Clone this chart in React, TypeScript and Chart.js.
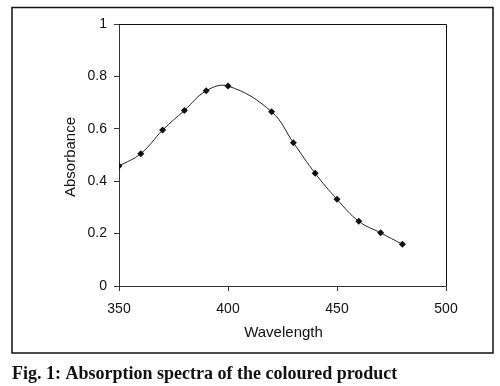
import React, { useEffect, useRef } from "react";
import { Chart, registerables } from "chart.js";

Chart.register(...registerables);

const wavelengths = [350, 360, 370, 380, 390, 400, 420, 430, 440, 450, 460, 470, 480];
const absorbance = [0.458, 0.505, 0.595, 0.67, 0.745, 0.763, 0.665, 0.547, 0.43, 0.331, 0.247, 0.203, 0.159];
const xTitle = "Wavelength";
const yTitle = "Absorbance";
const caption = "Fig. 1: Absorption spectra of the coloured product";

const decorPlugin = {
  id: "decor",
  afterDraw(chart: any) {
    const ctx = chart.ctx;
    const a = chart.chartArea;
    ctx.save();
    // plot box top & right
    ctx.strokeStyle = "#111";
    ctx.lineWidth = 1;
    ctx.beginPath();
    ctx.moveTo(a.left, a.top + 0.5);
    ctx.lineTo(a.right + 0.5, a.top + 0.5);
    ctx.lineTo(a.right + 0.5, a.bottom);
    ctx.stroke();
    // outer frame
    ctx.lineWidth = 1.5;
    ctx.strokeStyle = "#111";
    ctx.strokeRect(12, 7.5, 481, 345.5);
    // axis titles
    ctx.fillStyle = "#111";
    ctx.font = "15px 'Liberation Sans', Arial, sans-serif";
    ctx.textAlign = "center";
    ctx.textBaseline = "middle";
    ctx.fillText(xTitle, (a.left + a.right) / 2 + 1, 333);
    ctx.save();
    ctx.translate(71, (a.top + a.bottom) / 2 + 2);
    ctx.rotate(-Math.PI / 2);
    ctx.fillText(yTitle, 0, 0);
    ctx.restore();
    // caption
    ctx.font = "bold 18px 'Liberation Serif', 'Times New Roman', serif";
    ctx.textAlign = "left";
    ctx.fillText(caption, 12, 374);
    ctx.restore();
  },
};

export default function App() {
  const ref = useRef<HTMLCanvasElement | null>(null);
  useEffect(() => {
    if (!ref.current) return;
    const chart = new Chart(ref.current, {
      type: "line",
      data: {
        datasets: [
          {
            data: wavelengths.map((w, i) => ({ x: w, y: absorbance[i] })),
            borderColor: "#222",
            borderWidth: 1,
            backgroundColor: "#111",
            pointStyle: "rectRot",
            pointRadius: 3.5,
            pointBorderWidth: 0,
            tension: 0.4,
            fill: false,
          },
        ],
      },
      options: {
        animation: false,
        responsive: false,
        maintainAspectRatio: false,
        layout: { padding: { left: 0, top: 24, right: 54, bottom: 0 } },
        plugins: { legend: { display: false }, tooltip: { enabled: false } },
        scales: {
          x: {
            type: "linear",
            min: 350,
            max: 500,
            ticks: {
              stepSize: 50,
              color: "#111",
              font: { size: 14, family: "'Liberation Sans', Arial, sans-serif" },
              padding: 10,
              maxRotation: 0,
            },
            grid: { display: true, drawOnChartArea: false, color: "#333", tickLength: 5 },
            border: { display: true, color: "#333", width: 1 },
            afterFit: (s: any) => {
              s.height = 100;
            },
          },
          y: {
            min: 0,
            max: 1,
            ticks: {
              stepSize: 0.2,
              color: "#111",
              font: { size: 14, family: "'Liberation Sans', Arial, sans-serif" },
              padding: 7,
              callback: (v: any) => String(Math.round(Number(v) * 10) / 10),
            },
            grid: { display: true, drawOnChartArea: false, color: "#333", tickLength: 5 },
            border: { display: true, color: "#333", width: 1 },
            afterFit: (s: any) => {
              s.width = 119;
            },
          },
        },
      },
      plugins: [decorPlugin],
    });
    return () => chart.destroy();
  }, []);
  return (
    <div style={{ position: "fixed", left: 0, top: 0, width: 500, height: 386, background: "#fff" }}>
      <canvas ref={ref} width={500} height={386} style={{ width: 500, height: 386 }} />
    </div>
  );
}
